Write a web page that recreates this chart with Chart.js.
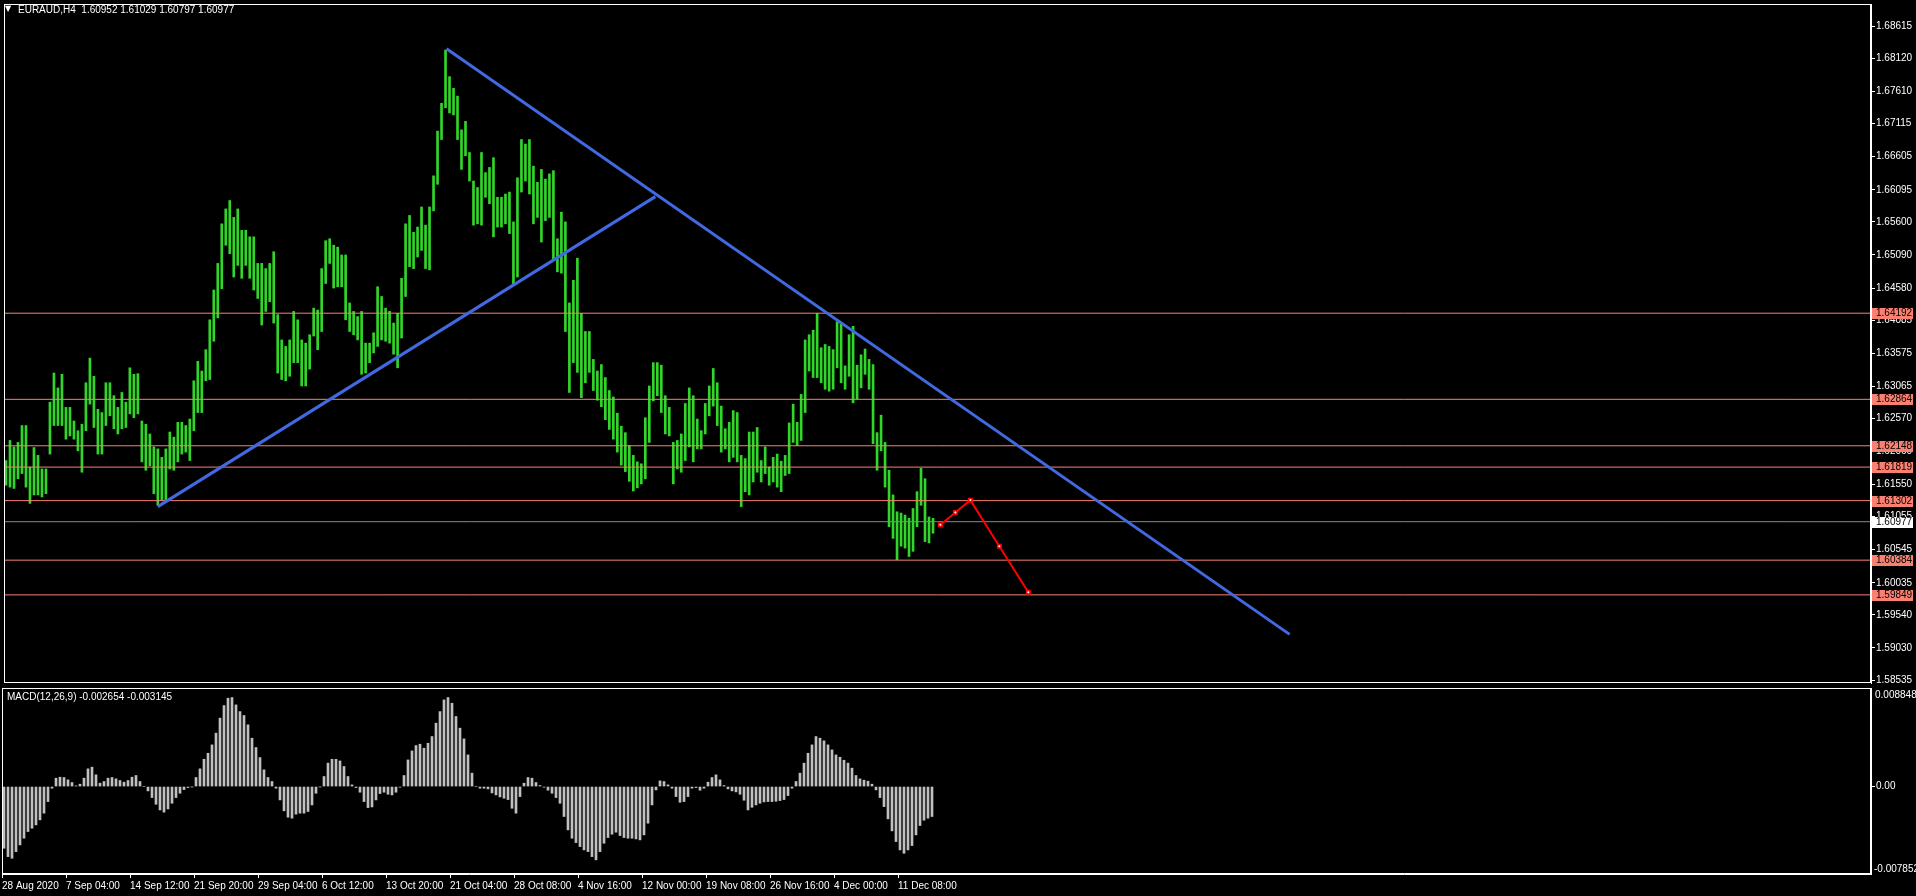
<!DOCTYPE html>
<html>
<head>
<meta charset="utf-8">
<script src="https://cdn.jsdelivr.net/npm/chart.js@4.4.1/dist/chart.umd.min.js"></script>
<style>
  html, body { margin: 0; padding: 0; background: #000; overflow: hidden; }
  #wrap { position: relative; width: 1916px; height: 896px; }
  canvas { position: absolute; left: 0; }
  #main { top: 0; }
  #macd { top: 687px; }
  .lbl { position: absolute; color: #fff; font: 10px "Liberation Sans", Arial, sans-serif; white-space: pre; }
</style>
</head>
<body>
<div id="wrap">
  <canvas id="main" width="1916" height="687"></canvas>
  <canvas id="macd" width="1916" height="209"></canvas>
  <div class="lbl" style="left:5px;top:4px;font-size:8px;font-family:'DejaVu Sans'">▼</div>
  <div class="lbl" style="left:18px;top:4px">EURAUD,H4  1.60952 1.61029 1.60797 1.60977</div>
  <div class="lbl" style="left:7px;top:691px">MACD(12,26,9) -0.002654 -0.003145</div>
</div>
<script>
// H4 bars, every second bar (high / low)
const highs = [
  1.6192,1.6223,1.6213,1.6220,1.6246,1.6246,1.6182,1.6212,1.6200,1.6179,
  1.6179,1.6282,1.6327,1.6304,1.6325,1.6274,1.6274,1.6253,1.6238,1.6248,
  1.6312,1.6350,1.6322,1.6271,1.6266,1.6312,1.6312,1.6292,1.6274,1.6297,
  1.6282,1.6335,1.6325,1.6326,1.6253,1.6248,1.6233,1.6213,1.6210,1.6197,
  1.6210,1.6236,1.6228,1.6251,1.6251,1.6246,1.6256,1.6315,1.6345,1.6330,
  1.6363,1.6409,1.6455,1.6496,1.6557,1.6580,1.6593,1.6567,1.6580,1.6547,
  1.6547,1.6537,1.6537,1.6496,1.6496,1.6488,1.6496,1.6514,1.6417,1.6378,
  1.6368,1.6378,1.6422,1.6409,1.6378,1.6373,1.6386,1.6427,1.6424,1.6488,
  1.6531,1.6534,
  1.6524,1.6521,1.6509,1.6509,1.6435,1.6422,1.6414,1.6422,1.6373,1.6373,
  1.6389,1.6460,1.6445,1.6427,1.6422,1.6404,1.6419,1.6473,1.6557,1.6570,
  1.6544,1.6552,1.6583,1.6555,1.6583,1.6631,1.6700,1.6743,1.6825,1.6784,
  1.6766,1.6754,1.6702,1.6715,1.6667,1.6623,1.6613,1.6667,1.6636,1.6644,
  1.6659,1.6598,1.6598,1.6603,1.6606,1.6560,1.6628,1.6687,1.6680,1.6687,
  1.6646,1.6621,1.6641,1.6626,1.6634,1.6639,1.6534,1.6575,1.6560,1.6435,
  1.6470,1.6504,1.6419,1.6391,1.6391,
  1.6348,1.6330,1.6340,1.6320,1.6300,1.6290,1.6265,1.6245,1.6235,1.6215,
  1.6200,1.6190,
  1.6187,1.6258,1.6307,1.6343,1.6343,1.6339,1.6292,1.6274,1.6220,1.6223,
  1.6233,1.6280,1.6304,1.6292,1.6256,1.6238,1.6280,1.6307,1.6334,1.6312,
  1.6276,1.6241,1.6251,1.6269,1.6266,1.6200,1.6195,1.6236,1.6236,1.6243,
  1.6192,1.6213,1.6182,1.6197,1.6202,1.6191,1.6200,1.6250,1.6279,1.6251,
  1.6294,1.6378,1.6386,1.6393,1.6419,1.6366,1.6371,1.6368,1.6363,1.6406,
  1.6404,1.6338,1.6386,1.6399,1.6339,1.6355,1.6364,1.6348,1.6340,1.6235,
  1.6262,1.6220,1.6177,1.6139,1.6113,1.6111,1.6108,1.6103,1.6118,1.6144,
  1.6180,1.6164,1.6105,1.6103
];
const lows = [
  1.6154,1.6151,1.6149,1.6164,1.6172,1.6151,1.6126,1.6139,1.6139,1.6136,
  1.6141,1.6202,1.6246,1.6246,1.6246,1.6225,1.6230,1.6225,1.6207,1.6174,
  1.6238,1.6279,1.6243,1.6202,1.6202,1.6246,1.6261,1.6241,1.6233,1.6241,
  1.6243,1.6264,1.6258,1.6264,1.6190,1.6177,1.6184,1.6141,1.6123,1.6131,
  1.6131,1.6179,1.6177,1.6190,1.6202,1.6205,1.6192,1.6238,1.6266,1.6266,
  1.6315,1.6317,1.6376,1.6412,1.6457,1.6524,1.6511,1.6475,1.6493,1.6473,
  1.6493,1.6473,1.6455,1.6442,1.6401,1.6422,1.6437,1.6404,1.6327,1.6317,
  1.6315,1.6322,1.6343,1.6343,1.6307,1.6307,1.6333,1.6384,1.6363,1.6391,
  1.6465,1.6496,
  1.6458,1.6460,1.6460,1.6409,1.6391,1.6386,1.6378,1.6325,1.6327,1.6343,
  1.6358,1.6368,1.6378,1.6376,1.6373,1.6356,1.6335,1.6381,1.6445,1.6491,
  1.6488,1.6506,1.6516,1.6488,1.6486,1.6577,1.6618,1.6687,1.6736,1.6728,
  1.6725,1.6687,1.6641,1.6662,1.6623,1.6555,1.6557,1.6555,1.6598,1.6588,
  1.6537,1.6552,1.6552,1.6557,1.6542,1.6463,1.6475,1.6606,1.6623,1.6603,
  1.6557,1.6567,1.6529,1.6562,1.6567,1.6501,1.6483,1.6481,1.6391,1.6297,
  1.6343,1.6328,1.6289,1.6312,1.6328,
  1.6300,1.6285,1.6275,1.6255,1.6240,1.6225,1.6205,1.6185,1.6175,1.6160,
  1.6145,1.6150,
  1.6156,1.6164,1.6220,1.6284,1.6292,1.6266,1.6233,1.6230,1.6156,1.6179,
  1.6174,1.6192,1.6213,1.6190,1.6210,1.6210,1.6233,1.6261,1.6276,1.6246,
  1.6205,1.6210,1.6190,1.6197,1.6190,1.6121,1.6144,1.6139,1.6159,1.6174,
  1.6159,1.6172,1.6154,1.6159,1.6151,1.6144,1.6169,1.6172,1.6220,1.6215,
  1.6223,1.6266,1.6330,1.6320,1.6320,1.6312,1.6302,1.6299,1.6302,1.6335,
  1.6312,1.6302,1.6322,1.6281,1.6287,1.6304,1.6325,1.6302,1.6218,1.6177,
  1.6207,1.6151,1.6090,1.6072,1.6039,1.6060,1.6057,1.6044,1.6052,1.6090,
  1.6123,1.6067,1.6065,1.6080
];
// MACD histogram, same bars
const macd = [
  -0.00554,-0.00629,-0.00644,-0.00584,-0.00524,-0.00464,-0.00404,-0.00374,-0.00344,-0.00299,
  -0.00239,-0.00135,-0.00015,0.00075,0.00084,0.00081,0.00060,0.00036,0.00006,0.00021,
  0.00075,0.00159,0.00174,0.00105,0.00030,0.00045,0.00075,0.00081,0.00069,0.00054,
  0.00039,0.00054,0.00084,0.00099,0.00045,0.00000,-0.00039,-0.00099,-0.00159,-0.00210,
  -0.00230,-0.00201,-0.00150,-0.00099,-0.00060,-0.00027,-0.00009,-0.00003,0.00081,0.00159,
  0.00245,0.00299,0.00374,0.00479,0.00614,0.00727,0.00793,0.00799,0.00733,0.00673,
  0.00638,0.00554,0.00434,0.00350,0.00260,0.00150,0.00081,0.00045,-0.00015,-0.00120,
  -0.00218,-0.00275,-0.00284,-0.00248,-0.00239,-0.00239,-0.00224,-0.00165,-0.00060,-0.00003,
  0.00090,0.00210,0.00245,0.00245,0.00230,0.00180,0.00090,0.00015,-0.00009,-0.00051,
  -0.00135,-0.00189,-0.00183,-0.00120,-0.00063,-0.00051,-0.00069,-0.00075,-0.00051,-0.00006,
  0.00099,0.00239,0.00320,0.00368,0.00380,0.00344,0.00389,0.00449,0.00569,0.00673,
  0.00778,0.00799,0.00748,0.00629,0.00524,0.00428,0.00284,0.00120,0.00000,-0.00015,
  -0.00015,-0.00021,-0.00057,-0.00075,-0.00093,-0.00105,-0.00117,-0.00195,-0.00239,-0.00090,
  0.00030,0.00081,0.00075,0.00036,0.00009,-0.00006,-0.00033,-0.00060,-0.00099,-0.00150,
  -0.00269,-0.00389,-0.00464,-0.00503,-0.00539,-0.00569,-0.00584,-0.00629,-0.00658,-0.00584,
  -0.00509,-0.00458,-0.00428,-0.00410,-0.00440,-0.00458,-0.00464,-0.00464,-0.00470,-0.00479,
  -0.00434,-0.00329,-0.00165,-0.00030,0.00051,0.00045,0.00015,-0.00015,-0.00090,-0.00141,
  -0.00135,-0.00090,-0.00015,-0.00009,-0.00033,-0.00015,0.00039,0.00081,0.00105,0.00060,
  0.00009,-0.00021,-0.00039,-0.00048,-0.00069,-0.00123,-0.00210,-0.00186,-0.00165,-0.00150,
  -0.00138,-0.00135,-0.00135,-0.00132,-0.00126,-0.00117,-0.00081,-0.00015,0.00045,0.00120,
  0.00210,0.00299,0.00374,0.00449,0.00434,0.00410,0.00374,0.00329,0.00284,0.00263,
  0.00236,0.00210,0.00165,0.00099,0.00069,0.00057,0.00048,0.00021,-0.00030,-0.00099,
  -0.00180,-0.00290,-0.00398,-0.00494,-0.00569,-0.00599,-0.00569,-0.00530,-0.00434,-0.00350,
  -0.00302,-0.00284,-0.00269
];

const priceTicks = [1.68615,1.68120,1.67610,1.67115,1.66605,1.66095,1.65600,1.65090,1.64580,1.64085,
  1.63575,1.63065,1.62570,1.62060,1.61550,1.61055,1.60545,1.60035,1.59540,1.59030,1.58535];
const levels = [1.64192, 1.62864, 1.62148, 1.61819, 1.61302, 1.60384, 1.59849];
const lastPrice = 1.60977;

const timeLabels = ["28 Aug 2020","7 Sep 04:00","14 Sep 12:00","21 Sep 20:00","29 Sep 04:00",
  "6 Oct 12:00","13 Oct 20:00","21 Oct 04:00","28 Oct 08:00","4 Nov 16:00","12 Nov 00:00",
  "19 Nov 08:00","26 Nov 16:00","4 Dec 00:00","11 Dec 08:00"];
const timeTickBars = [0,32,64,96,128,160,192,224,256,288,320,352,384,416,448];

// trend lines and the forecast path (bar number, price)
const supportBars = [77, 326];
const supportPrices = [1.6121, 1.6599];
const resistBars = [221.5, 643.5];
const resistPrices = [1.6827, 1.5924];
const forecastBars = [468.7, 476.2, 483.7, 498.2, 512.7];
const forecastPrices = [1.6093, 1.6112, 1.6131, 1.6060, 1.5989];

const X_MAX = 934.5;
const PRICE_MIN = 1.5849, PRICE_MAX = 1.6896;
const MACD_MIN = -0.007852, MACD_MAX = 0.008848;

const FONT = { family: "'Liberation Sans', Arial, sans-serif", size: 10 };
const SALMON = "#fa8072";

const pts = (xs, ys) => xs.map((x, i) => ({ x: x, y: ys[i] }));

// keep the plot area where the terminal puts it
const noPadY = s => { s.width = 45; s.paddingTop = 0; s.paddingBottom = 0; };
const noPadX = s => { s.paddingLeft = 0; s.paddingRight = 0; };

const frame = {
  id: "frame",
  afterDraw(chart) {
    const a = chart.chartArea, ctx = chart.ctx;
    ctx.save();
    ctx.strokeStyle = "#fff";
    ctx.lineWidth = 1;
    ctx.strokeRect(a.left + 0.5, a.top + 0.5, a.right - a.left - 1, a.bottom - a.top - 1);
    ctx.restore();
  }
};

const levelTags = {
  id: "levelTags",
  afterDraw(chart) {
    const ctx = chart.ctx, y = chart.scales.y, left = chart.chartArea.right + 1;
    ctx.save();
    ctx.font = "10px " + FONT.family;
    ctx.textBaseline = "middle";
    const tag = (v, bg) => {
      const py = Math.round(y.getPixelForValue(v));
      ctx.fillStyle = bg;
      ctx.fillRect(left, py - 5, 41, 11);
      ctx.fillStyle = "#000";
      ctx.fillText(v.toFixed(5), left + 4, py + 0.5);
    };
    levels.forEach(v => tag(v, SALMON));
    tag(lastPrice, "#fff");
    ctx.restore();
  }
};

const macdEdges = {
  id: "macdEdges",
  afterDraw(chart) {
    const ctx = chart.ctx, a = chart.chartArea;
    ctx.save();
    ctx.font = "10px " + FONT.family;
    ctx.fillStyle = "#fff";
    ctx.textBaseline = "middle";
    ctx.fillText(MACD_MAX.toFixed(6), a.right + 4, a.top + 7);
    ctx.fillText(MACD_MIN.toFixed(6), a.right + 3, a.bottom - 5);
    ctx.restore();
  }
};

const levelSets = levels.map(v => ({
  type: "line", data: pts([0, X_MAX], [v, v]), borderColor: SALMON,
  borderWidth: 1, pointRadius: 0, order: 2
}));

new Chart(document.getElementById("main"), {
  type: "bar",
  data: {
    datasets: [
      {
        type: "line", data: pts(forecastBars, forecastPrices), borderColor: "#ff0000",
        borderWidth: 2, pointStyle: "rect", pointRadius: 3.5, pointBackgroundColor: "#ff0000",
        pointBorderWidth: 0, order: 0
      },
      {
        type: "line", data: pts(forecastBars, forecastPrices), showLine: false,
        pointRadius: 1, pointBackgroundColor: "#fff", pointBorderWidth: 0, order: -1
      },
      {
        type: "line", data: pts(supportBars, supportPrices), borderColor: "#4169e1",
        borderWidth: 3, pointRadius: 0, order: 1
      },
      {
        type: "line", data: pts(resistBars, resistPrices), borderColor: "#4169e1",
        borderWidth: 3, pointRadius: 0, order: 1
      },
      ...levelSets,
      {
        type: "line", data: pts([0, X_MAX], [lastPrice, lastPrice]), borderColor: "#858a92",
        borderWidth: 1, pointRadius: 0, order: 2
      },
      {
        data: lows.map((l, i) => ({ x: 2 * i + 1, y: [l, highs[i]] })),
        backgroundColor: "#32d62a", barThickness: 2, order: 10
      }
    ]
  },
  options: {
    responsive: false,
    animation: false,
    devicePixelRatio: 1,
    layout: { padding: { left: 2, top: 2, bottom: 1, right: 0 } },
    plugins: { legend: { display: false }, tooltip: { enabled: false } },
    scales: {
      x: { type: "linear", min: 0, max: X_MAX, offset: false, display: false },
      y: {
        position: "right",
        min: PRICE_MIN,
        max: PRICE_MAX,
        afterBuildTicks(s) { s.ticks = priceTicks.map(v => ({ value: v })); },
        afterFit: noPadY,
        grid: { drawOnChartArea: false, color: "#fff", tickLength: 4 },
        border: { color: "#fff" },
        ticks: { color: "#fff", font: FONT, padding: 1, callback: v => v.toFixed(5) }
      }
    }
  },
  plugins: [frame, levelTags]
});

new Chart(document.getElementById("macd"), {
  type: "bar",
  data: {
    datasets: [{
      data: macd.map((v, i) => ({ x: 2 * i + 1, y: v })),
      backgroundColor: "#c0c0c0", barThickness: 2
    }]
  },
  options: {
    responsive: false,
    animation: false,
    devicePixelRatio: 1,
    layout: { padding: { left: 2, top: 1, bottom: 0, right: 0 } },
    plugins: { legend: { display: false }, tooltip: { enabled: false } },
    scales: {
      x: {
        type: "linear", min: 0, max: X_MAX, offset: false,
        afterBuildTicks(s) { s.ticks = timeTickBars.map(v => ({ value: v })); },
        afterFit(s) { s.height = 22; noPadX(s); },
        grid: { drawOnChartArea: false, offset: false, color: "#fff", tickLength: 4 },
        border: { color: "#fff" },
        ticks: {
          color: "#fff", font: FONT, align: "start", maxRotation: 0, autoSkip: false, padding: 2,
          callback: (v, i) => timeLabels[i]
        }
      },
      y: {
        position: "right",
        min: MACD_MIN,
        max: MACD_MAX,
        afterBuildTicks(s) { s.ticks = [{ value: 0 }]; },
        afterFit: noPadY,
        grid: { drawOnChartArea: false, color: "#fff", tickLength: 4 },
        border: { color: "#fff" },
        ticks: { color: "#fff", font: FONT, padding: 1, callback: () => "0.00" }
      }
    }
  },
  plugins: [frame, macdEdges]
});
</script>
</body>
</html>
